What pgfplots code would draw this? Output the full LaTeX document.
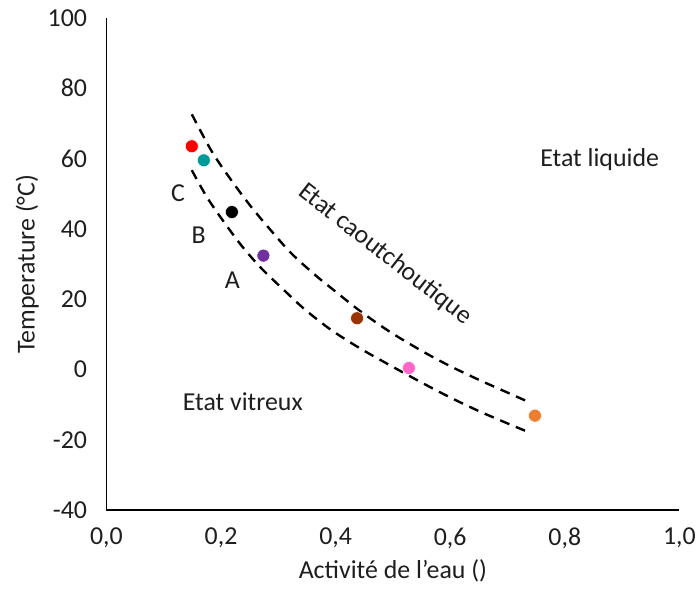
\documentclass[border=0pt]{standalone}
\usepackage{pgfplots}
\pgfplotsset{compat=1.18}
\usepackage{fontspec}
\setmainfont{Carlito}
\definecolor{cteal}{RGB}{0,153,153}
\definecolor{cpurple}{RGB}{112,48,160}
\definecolor{cbrown}{RGB}{153,51,0}
\definecolor{cpink}{RGB}{255,102,204}
\definecolor{corange}{RGB}{237,125,49}
\definecolor{txt}{RGB}{30,30,30}
\begin{document}
\begin{tikzpicture}
\begin{axis}[
  name=ax,
  scale only axis,
  width=576pt, height=495pt,
  xmin=0, xmax=1, ymin=-40, ymax=100,
  xtick={0,0.2,0.4,0.6,0.8,1},
  ytick={-40,-20,0,20,40,60,80,100},
  axis x line=bottom, axis y line=left,
  axis line style={-, line width=1.8pt, color=black},
  major tick length=0pt,
  /pgf/number format/assume math mode=true,
  xticklabel style={/pgf/number format/fixed, /pgf/number format/fixed zerofill, /pgf/number format/precision=1, /pgf/number format/use comma, font=\fontsize{26}{28}\selectfont, color=txt},
  yticklabel style={font=\fontsize{26}{28}\selectfont, color=txt},
  xticklabel shift=14pt,
  yticklabel shift=16pt,
  xlabel={Activité de l'eau ()},
  ylabel={Temperature (°C)},
  label style={font=\fontsize{26}{28}\selectfont, color=txt},
  xlabel style={yshift=-4pt},
  ylabel style={yshift=2pt},
  clip=false,
]
\addplot[black, line width=2.4pt, dash pattern=on 10pt off 7pt, smooth] coordinates {
(0.149,72.6) (0.184,62.0) (0.219,53.6) (0.253,46.2) (0.288,39.4) (0.323,33.0) (0.365,26.8) (0.399,22.3) (0.444,16.5) (0.497,10.5) (0.556,4.8) (0.601,0.9) (0.65,-2.9) (0.694,-6.1) (0.734,-9.0)};
\addplot[black, line width=2.4pt, dash pattern=on 10pt off 7pt, smooth] coordinates {
(0.149,56.7) (0.174,49.4) (0.201,42.9) (0.236,35.2) (0.271,28.7) (0.3125,22.2) (0.347,17.0) (0.392,11.3) (0.444,5.9) (0.503,0.5) (0.556,-4.2) (0.601,-8.0) (0.65,-11.8) (0.7,-15.3) (0.731,-17.4)};
\addplot[only marks, mark=*, mark size=6.5pt, red, mark options={draw=white, line width=0.5pt}] coordinates {(0.149,63.5)};
\addplot[only marks, mark=*, mark size=6.5pt, cteal, mark options={draw=white, line width=0.5pt}] coordinates {(0.170,59.5)};
\addplot[only marks, mark=*, mark size=6.5pt, black, mark options={draw=white, line width=0.5pt}] coordinates {(0.219,44.8)};
\addplot[only marks, mark=*, mark size=6.5pt, cpurple, mark options={draw=white, line width=0.5pt}] coordinates {(0.274,32.4)};
\addplot[only marks, mark=*, mark size=6.5pt, cbrown, mark options={draw=white, line width=0.5pt}] coordinates {(0.4375,14.6)};
\addplot[only marks, mark=*, mark size=6.5pt, cpink, mark options={draw=white, line width=0.5pt}] coordinates {(0.528,0.45)};
\addplot[only marks, mark=*, mark size=6.5pt, corange, mark options={draw=white, line width=0.5pt}] coordinates {(0.748,-13.1)};
\node[font=\fontsize{26}{28}\selectfont, color=txt] at (axis cs:0.861,59.8) {Etat liquide};
\node[font=\fontsize{26}{28}\selectfont, color=txt] at (axis cs:0.238,-9.2) {Etat vitreux};
\node[font=\fontsize{26}{28}\selectfont, color=txt, rotate=-38] at (axis cs:0.486,32.8) {Etat caoutchoutique};
\node[font=\fontsize{26}{28}\selectfont, color=txt] at (axis cs:0.125,50.2) {C};
\node[font=\fontsize{26}{28}\selectfont, color=txt] at (axis cs:0.161,38.3) {B};
\node[font=\fontsize{26}{28}\selectfont, color=txt] at (axis cs:0.220,25.3) {A};
\end{axis}
\path ([shift={(-107pt,-88pt)}]ax.south west) rectangle ([shift={(16pt,18pt)}]ax.north east);
\end{tikzpicture}
\end{document}
